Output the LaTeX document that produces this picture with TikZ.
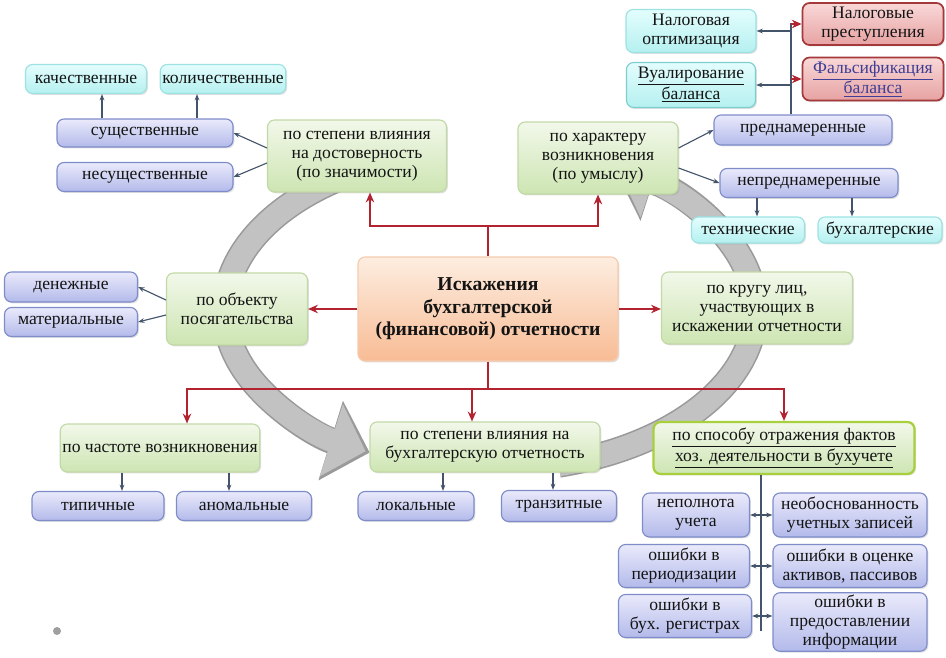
\documentclass[tikz,border=0pt]{standalone}
\usepackage{fontspec}
\setmainfont{Liberation Serif}
\usepackage{tikz}
\usetikzlibrary{arrows.meta, positioning, calc, shadows}
\definecolor{skRed}{HTML}{B2232F}
\definecolor{skLine}{HTML}{44546A}
\definecolor{skRing}{HTML}{C2C2C2}
\definecolor{skRingEdge}{HTML}{9A9A9A}
\definecolor{skLink}{HTML}{3E3E95}
\definecolor{grTop}{HTML}{F2F8EA}
\definecolor{grBot}{HTML}{CDE5B2}
\definecolor{grEdge}{HTML}{C2D9A6}
\definecolor{grBright}{HTML}{A8CF3C}
\definecolor{blTop}{HTML}{EAEAFB}
\definecolor{blBot}{HTML}{B3BAEA}
\definecolor{blEdge}{HTML}{7E8CC9}
\definecolor{cyTop}{HTML}{E4FDFD}
\definecolor{cyBot}{HTML}{B5F0F0}
\definecolor{cyEdge}{HTML}{9CE2E2}
\definecolor{rdTop}{HTML}{F9D8D8}
\definecolor{rdBot}{HTML}{E7A2A2}
\definecolor{rdEdge}{HTML}{A3393A}
\definecolor{orTop}{HTML}{FDEDE0}
\definecolor{orBot}{HTML}{F8BC95}
\definecolor{orEdge}{HTML}{F5CBAE}
\newcommand{\pxu}{0.025cm}

\begin{document}
\begin{tikzpicture}[
  x=\pxu, y=-\pxu,
  box/.style={rounded corners=5pt, line width=0.8pt, align=center, inner sep=1.5pt,
              font=\fontsize{12.5}{13.5}\selectfont, text=black!92,
              drop shadow={opacity=0.25, shadow xshift=1pt, shadow yshift=-1pt}},
  sz/.style 2 args={minimum width=#1*\pxu, minimum height=#2*\pxu},
  crit/.style={box, top color=grTop, bottom color=grBot, draw=grEdge},
  kind/.style={box, top color=blTop, bottom color=blBot, draw=blEdge},
  leaf/.style={box, top color=cyTop, bottom color=cyBot, draw=cyEdge},
  crime/.style={box, top color=rdTop, bottom color=rdBot, draw=rdEdge, line width=1.2pt},
  core/.style={box, top color=orTop, bottom color=orBot, draw=orEdge,
               font=\fontsize{14}{16}\selectfont\bfseries},
  ringedge/.style={-{Triangle[length=1.02cm, width=2.02cm]}, line width=0.66cm, color=skRingEdge},
  ring/.style={-{Triangle[length=0.9cm, width=1.84cm]}, line width=0.58cm, color=skRing},
  redln/.style={line width=1.5pt, color=skRed},
  redarr/.style={redln, -{Stealth[length=7pt, width=6pt]}},
  ln/.style={line width=0.8pt, color=skLine},
  arr/.style={ln, -{Stealth[length=4.5pt]}},
  both/.style={ln, {Stealth[length=4.5pt]}-{Stealth[length=4.5pt]}}
]
\useasboundingbox (0,0) rectangle (946,657);

\coordinate (ringc) at (490,310);
\draw[ringedge] (ringc) ++(245:265 and 160) arc[start angle=245, end angle=117, x radius=265, y radius=160];
\draw[ring] (ringc) ++(245:265 and 160) arc[start angle=245, end angle=118, x radius=265, y radius=160];
\draw[ringedge] (ringc) ++(75:265 and 160) arc[start angle=75, end angle=-62, x radius=265, y radius=160];
\draw[ring] (ringc) ++(75:265 and 160) arc[start angle=75, end angle=-61, x radius=265, y radius=160];

\node[core, sz={260}{104}] (isk) at (488,309) {Искажения\\бухгалтерской\\(финансовой) отчетности};

\node[crit, sz={179}{72}] (vlDost) at (357,156) {по степени влияния\\на достоверность\\(по значимости)};
\node[crit, sz={160}{72}] (harakt) at (598,158) {по характеру\\возникновения\\(по умыслу)};
\node[crit, sz={141}{72}] (obekt) at (237,309) {по объекту\\посягательства};
\node[crit, sz={191}{72}] (krug) at (757,308) {по кругу лиц,\\участвующих в\\искажении отчетности};
\node[crit, sz={196}{48}] (chast) at (160,448) {по частоте возникновения};
\node[crit, sz={230}{50}] (vlOtch) at (485,447) {по степени влияния на\\бухгалтерскую отчетность};
\node[crit, sz={261}{52}, draw=grBright, line width=1.6pt] (sposob) at (784,448)
  {\underline{по способу отражения фактов}\\\underline{хоз. деятельности в бухучете}};

\node[kind, sz={176}{28}] (sush) at (145,133) {существенные};
\node[kind, sz={176}{29}] (nesush) at (145,177) {несущественные};
\node[kind, sz={133}{30}] (den) at (71,287) {денежные};
\node[kind, sz={133}{29}] (mat) at (71,322) {материальные};
\node[kind, sz={178}{30}] (predn) at (803,130) {преднамеренные};
\node[kind, sz={178}{29}] (nepredn) at (809,183) {непреднамеренные};
\node[kind, sz={132}{29}] (tip) at (98,506) {типичные};
\node[kind, sz={135}{29}] (anom) at (244,506) {аномальные};
\node[kind, sz={116}{29}] (lok) at (416,506) {локальные};
\node[kind, sz={115}{31}] (tranz) at (559,506) {транзитные};
\node[kind, sz={107}{44}] (nepoln) at (696,515) {неполнота\\учета};
\node[kind, sz={154}{44}] (neobosn) at (850,515) {необоснованность\\учетных записей};
\node[kind, sz={131}{43}] (perio) at (684,566) {ошибки в\\периодизации};
\node[kind, sz={154}{43}] (ocenka) at (850,566) {ошибки в оценке\\активов, пассивов};
\node[kind, sz={133}{43}] (regis) at (685,616) {ошибки в\\бух. регистрах};
\node[kind, sz={154}{55}] (predost) at (850,622) {ошибки в\\предоставлении\\информации};

\node[leaf, sz={121}{29}] (kach) at (86,79) {качественные};
\node[leaf, sz={123}{29}] (kol) at (223,79) {количественные};
\node[leaf, sz={130}{43}] (nalopt) at (691,31) {Налоговая\\оптимизация};
\node[leaf, sz={129}{45}, draw=cyEdge!80!teal] (vual) at (691,85) {\underline{Вуалирование}\\\underline{баланса}};
\node[leaf, sz={113}{26}] (tech) at (748,230) {технические};
\node[leaf, sz={124}{26}] (buhg) at (880,230) {бухгалтерские};

\node[crime, sz={141}{42}] (nalpr) at (873,24) {Налоговые\\преступления};
\node[crime, sz={141}{43}, text=skLink] (fals) at (873,79) {\underline{Фальсификация}\\\underline{баланса}};

\draw[redln] (isk.north) -- ++(0,-30) coordinate (topj);
\draw[redarr] (topj) -| ($(vlDost.south)+(13,0)$);
\draw[redarr] (topj) -| (harakt.south);
\draw[redarr] (isk.west) -- (isk.west -| obekt.east);
\draw[redarr] (isk.east) -- (isk.east -| krug.west);
\draw[redln] (isk.south) -- ++(0,27) coordinate (botj);
\draw[redarr] (botj) -| ($(chast.north)+(27,0)$);
\draw[redarr] (botj) -| ($(vlOtch.north)+(-13,0)$);
\draw[redarr] (botj) -| (sposob.north);

\draw[arr] ($(vlDost.west)+(0,-8)$) -- (sush.east);
\draw[arr] ($(vlDost.west)+(0,7)$) -- (nesush.east);
\draw[arr] ($(sush.north)+(-43,0)$) -- ($(kach.south)+(16,0)$);
\draw[arr] ($(sush.north)+(52,0)$) -- ($(kol.south)+(-26,0)$);
\draw[arr] ($(obekt.west)+(0,-9)$) -- (den.east);
\draw[arr] ($(obekt.west)+(0,6)$) -- (mat.east);
\draw[arr] ($(harakt.east)+(0,-10)$) -- (predn.west);
\draw[arr] ($(harakt.east)+(0,10)$) -- (nepredn.west);
\draw[arr] ($(nepredn.south)+(-52,0)$) -- ($(tech.north)+(9,0)$);
\draw[arr] ($(nepredn.south)+(43,0)$) -- ($(buhg.north)+(-28,0)$);

\draw[ln] ($(predn.north)+(-12,0)$) -- ++(0,-91) coordinate (vtop);
\draw[arr] (vtop |- nalopt.east) -- (nalopt.east);
\draw[arr] (vtop |- vual.east) -- (vual.east);
\draw[redarr] (vtop |- nalpr.west) -- (nalpr.west);
\draw[redarr] (vtop |- fals.west) -- (fals.west);

\draw[arr] ($(chast.south)+(-38,0)$) -- ($(tip.north)+(24,0)$);
\draw[arr] ($(chast.south)+(69,0)$) -- ($(anom.north)+(-15,0)$);
\draw[arr] ($(vlOtch.south)+(-42,0)$) -- ($(lok.north)+(27,0)$);
\draw[arr] ($(vlOtch.south)+(68,0)$) -- ($(tranz.north)+(-6,0)$);

\draw[ln] ($(sposob.south)+(-23,0)$) -- ++(0,156) coordinate (vbot);
\draw[both] (nepoln.east) -- (neobosn.west);
\draw[both] (perio.east) -- (ocenka.west);
\draw[both] (regis.east) -- (regis.east -| predost.west);

\fill[gray!75] (57,631) circle[radius=4];
\end{tikzpicture}
\end{document}
